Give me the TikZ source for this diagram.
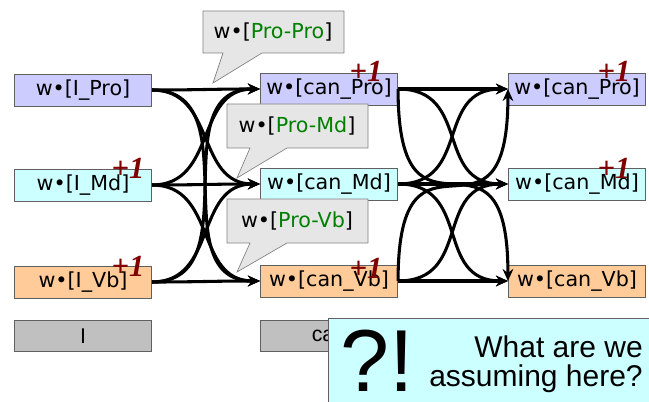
\documentclass[tikz,border=0pt]{standalone}
\usepackage{fontspec}
\setmainfont{DejaVu Sans}
\newfontfamily\arialf{Liberation Sans}
\newfontfamily\timesf{Liberation Serif}
\usetikzlibrary{arrows.meta}
\definecolor{proC}{HTML}{CCCCFF}
\definecolor{mdC}{HTML}{CCFFFF}
\definecolor{vbC}{HTML}{FFCC99}
\definecolor{bubC}{HTML}{E6E6E6}
\definecolor{plusC}{HTML}{800000}
\definecolor{greenT}{HTML}{008000}
\definecolor{edgeC}{HTML}{606060}
\definecolor{grayBox}{HTML}{C0C0C0}
\begin{document}
\begin{tikzpicture}[x=0.75pt,y=-0.75pt,
  wbox/.style={draw=edgeC, line width=0.6pt, minimum width=103pt, minimum height=24pt, inner sep=0pt, font=\fontsize{15.5}{18}\selectfont},
  gbox/.style={draw=edgeC, fill=grayBox, line width=0.6pt, minimum width=103pt, minimum height=23pt, inner sep=0pt, font=\arialf\fontsize{16}{18}\selectfont},
  plus/.style={font=\timesf\bfseries\itshape\fontsize{23}{24}\selectfont, text=plusC, inner sep=0pt},
  conn/.style={line width=2.3pt, -{Stealth[length=9pt,width=8pt]}},
  bubble/.style={draw=gray, fill=bubC, line width=0.5pt},
  btext/.style={inner sep=0pt, font=\fontsize{15.5}{18}\selectfont},
]
\useasboundingbox (0,0) rectangle (649,402);
% left column
\node[wbox, fill=proC] (lPro) at (83,90) {w•[I\_Pro]};
\node[wbox, fill=mdC]  (lMd)  at (83,185) {w•[I\_Md]};
\node[wbox, fill=vbC]  (lVb)  at (83,282) {w•[I\_Vb]};
% middle column
\node[wbox, fill=proC] (mPro) at (329,89) {w•[can\_Pro]};
\node[wbox, fill=mdC]  (mMd)  at (329,184) {w•[can\_Md]};
\node[wbox, fill=vbC]  (mVb)  at (329,281) {w•[can\_Vb]};
% right column
\node[wbox, fill=proC] (rPro) at (577,89) {w•[can\_Pro]};
\node[wbox, fill=mdC]  (rMd)  at (577,184) {w•[can\_Md]};
\node[wbox, fill=vbC]  (rVb)  at (577,281) {w•[can\_Vb]};
% left group connectors
\foreach \s in {lPro,lMd,lVb}{
  \foreach \t in {mPro,mMd,mVb}{
    \draw[conn] (\s.east) to[out=0,in=180,looseness=1.15] (\t.west);
  }
}
% right group connectors
\draw[conn] (mPro.east) -- (rPro.west);
\draw[conn] (mMd.east) -- (rMd.west);
\draw[conn] (mVb.east) -- (rVb.west);
\draw[conn] (mPro.east) to[out=0,in=180,looseness=1.3] (rMd.west);
\draw[conn] (mMd.east) to[out=0,in=180,looseness=1.3] (rPro.west);
\draw[conn] (mMd.east) to[out=0,in=180,looseness=1.3] (rVb.west);
\draw[conn] (mVb.east) to[out=0,in=180,looseness=1.3] (rMd.west);
\draw[conn] (mPro.east) to[out=-90,in=90,looseness=2.1] (rVb.west);
\draw[conn] (mVb.east) to[out=90,in=-90,looseness=2.1] (rPro.west);
% bubbles
\draw[bubble] (203,11) -- (344,11) -- (344,53) -- (262,53) -- (213,83) -- (223,53) -- (203,53) -- cycle;
\node[btext] (bPP) at (273,32) {w•[\textcolor{greenT}{Pro-Pro}]};
\draw[bubble] (227,104) -- (368,104) -- (368,148) -- (287,148) -- (237,178) -- (250,148) -- (227,148) -- cycle;
\node[btext] (bPM) at (297,126) {w•[\textcolor{greenT}{Pro-Md}]};
\draw[bubble] (227,199) -- (368,199) -- (368,243) -- (287,243) -- (237,272) -- (250,243) -- (227,243) -- cycle;
\node[btext] (bPV) at (297,221) {w•[\textcolor{greenT}{Pro-Vb}]};
% +1 marks
\node[plus] (p1) at (128,168) {+1};
\node[plus] (p2) at (128,266) {+1};
\node[plus] (p3) at (366,71) {+1};
\node[plus] (p4) at (366,268) {+1};
\node[plus] (p5) at (614,71) {+1};
\node[plus] (p6) at (614,168) {+1};
% bottom labels
\node[gbox] (gI) at (83,336) {I};
\node[gbox] (gCan) at (329,336) {can};
% note box
\draw[draw=edgeC, fill=mdC, line width=0.6pt] (328,318) rectangle (660,410);
\node[inner sep=0pt, font=\arialf\fontsize{66}{66}\selectfont] (qx) at (377,361) {?!};
\node[inner sep=0pt, anchor=base east, font=\arialf\fontsize{22.5}{24}\selectfont] (n1) at (643,357) {What are we};
\node[inner sep=0pt, anchor=base east, font=\arialf\fontsize{22.5}{24}\selectfont] (n2) at (643,386) {assuming here?};
\end{tikzpicture}
\end{document}
